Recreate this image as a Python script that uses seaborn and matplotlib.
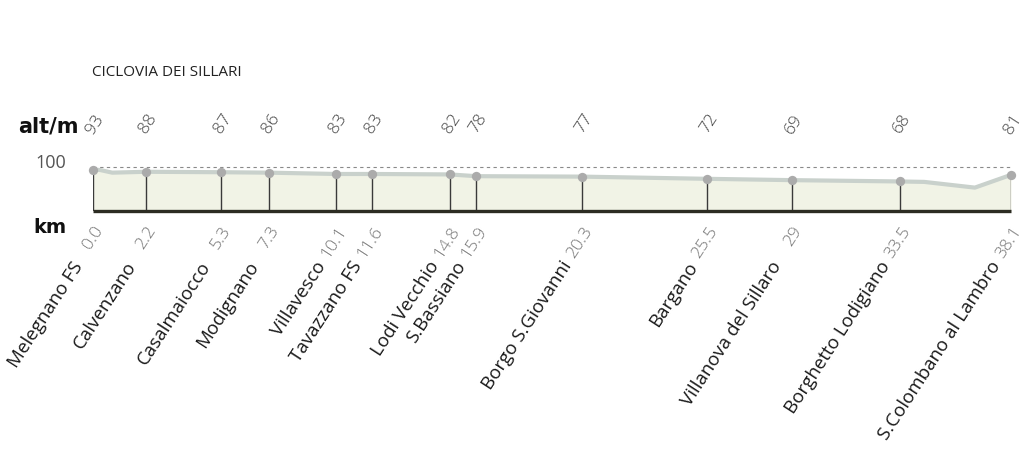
import matplotlib
matplotlib.use("Agg")
import matplotlib.pyplot as plt
import matplotlib.transforms as mtransforms
import seaborn as sns
import pandas as pd

# --- data ---
stops = ["Melegnano FS", "Calvenzano", "Casalmaiocco", "Modignano", "Villavesco",
         "Tavazzano FS", "Lodi Vecchio", "S.Bassiano", "Borgo S.Giovanni", "Bargano",
         "Villanova del Sillaro", "Borghetto Lodigiano", "S.Colombano al Lambro"]
stop_km = [0.0, 2.2, 5.3, 7.3, 10.1, 11.6, 14.8, 15.9, 20.3, 25.5, 29, 33.5, 38.1]
stop_km_labels = ["0.0", "2.2", "5.3", "7.3", "10.1", "11.6", "14.8", "15.9", "20.3",
                  "25.5", "29", "33.5", "38.1"]
stop_alt = [93, 88, 87, 86, 83, 83, 82, 78, 77, 72, 69, 68, 81]

profile_km = [0.0, 0.3, 0.8, 2.2, 5.3, 7.3, 10.1, 11.6, 14.8, 15.9, 20.3, 25.5, 29,
              33.5, 34.5, 36.6, 38.1]
profile_alt = [93, 92, 86, 88, 87, 86, 83, 83, 82, 78, 77, 72, 69, 66, 65, 52, 81]

ref_alt = 100

sns.set_theme(style="white")
plt.rcParams['font.family'] = ['Open Sans', 'DejaVu Sans']

W, H = 1024, 452
fig = plt.figure(figsize=(W / 100, H / 100), dpi=100)
left_px, right_px = 93, 1011
top_px, bot_px = 167.5, 211.5
ax = fig.add_axes([left_px / W, 1 - bot_px / H, (right_px - left_px) / W, (bot_px - top_px) / H])
ax.set_xlim(0, 38.1)
ax.set_ylim(0, 100)
ax.axis("off")

prof = pd.DataFrame({"km": profile_km, "alt": profile_alt})
pts = pd.DataFrame({"km": stop_km, "alt": stop_alt})

ax.fill_between(prof["km"], 0, prof["alt"], color="#f1f3e6", zorder=1, linewidth=0)
sns.lineplot(data=prof, x="km", y="alt", ax=ax, color="#c9d1cc", linewidth=3.0, zorder=3)
ax.plot([0, 38.1], [ref_alt, ref_alt], color="#8a8a8a", lw=0.8, dashes=(3, 3), zorder=2, clip_on=False)
ax.vlines(stop_km, 0, stop_alt, color="#3a3a3a", lw=1.0, zorder=2)
ax.plot([0, 38.1], [0, 0], color="#2c2c22", lw=2.4, zorder=5, clip_on=False, solid_capstyle="butt")
sns.scatterplot(data=pts, x="km", y="alt", ax=ax, color="#ababab", s=45, linewidth=0,
                zorder=6, clip_on=False, legend=False)
ax.set_xlabel("")
ax.set_ylabel("")

tr = mtransforms.blended_transform_factory(ax.transData, fig.transFigure)


def fy(px):
    return 1 - px / H


def shifted(dx_px):
    return tr + mtransforms.ScaledTranslation(dx_px / 100, 0, fig.dpi_scale_trans)


# Title & axis words
fig.text(92 / W, fy(73), "CICLOVIA DEI SILLARI", fontsize=11, color="#222222",
         ha="left", va="center", fontweight="medium")
fig.text(18 / W, fy(126), "alt/m", fontsize=15, color="#111111", ha="left", va="center",
         fontweight="semibold", family=["DejaVu Sans"])
fig.text(66 / W, fy(163), "100", fontsize=13, color="#555555", ha="right", va="center")
fig.text(33 / W, fy(228), "km", fontsize=14, color="#111111", ha="left", va="center",
         fontweight="semibold", family=["DejaVu Sans"])

ang = 57
for km, alt in zip(stop_km, stop_alt):
    ax.text(km, fy(124), str(alt), transform=shifted(2), rotation=ang, rotation_mode="anchor",
            ha="center", va="center", fontsize=12.5, color="#444444", fontweight="light")

for km, lab, name in zip(stop_km, stop_km_labels, stops):
    ax.text(km, fy(228), lab, transform=shifted(7), rotation=ang, rotation_mode="anchor",
            ha="right", va="center", fontsize=12.5, color="#777777", fontweight="light")
    ax.text(km, fy(263), name, transform=shifted(-14), rotation=ang, rotation_mode="anchor",
            ha="right", va="center", fontsize=13.5, color="#1a1a1a")

fig.savefig("out.png", dpi=100)
